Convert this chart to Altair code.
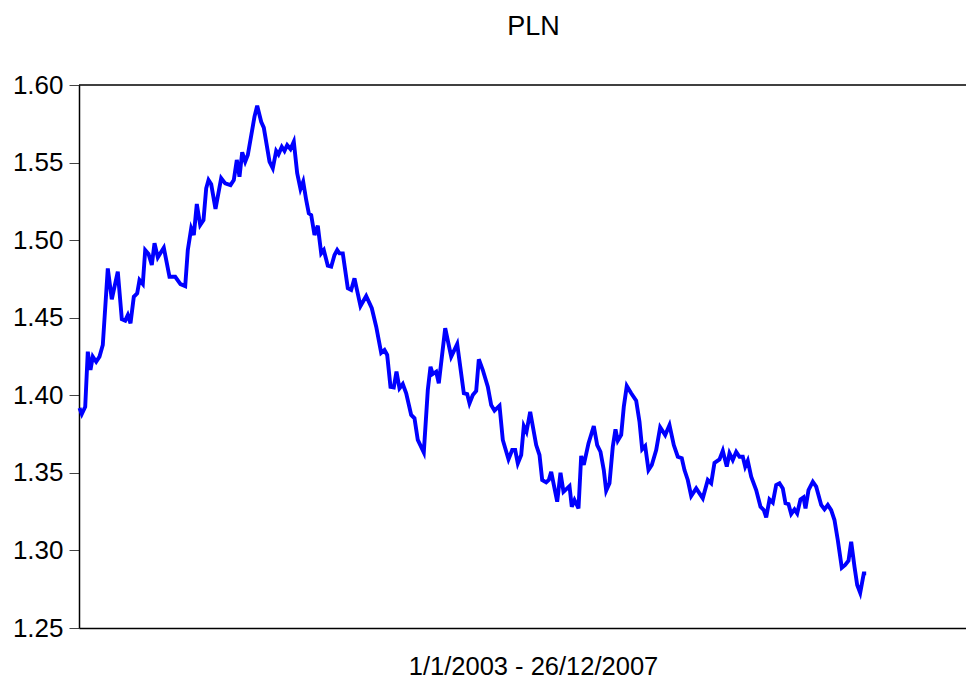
import altair as alt
import pandas as pd

# week index (approx.) and PLN value
t = [0.17, 0.93, 2.07, 2.93, 3.83, 4.6, 5.73, 6.83, 7.93, 9.6, 10.93, 12.93, 14.27, 15.4, 16.27, 17.17,
     18.27, 19.4, 20.17, 21.27, 22.07, 23.17, 24.27, 25.17, 26.27, 28.27, 30.17, 32.07, 33.83, 35.4,
     36.27, 37.4, 38.27, 39.27, 40.4, 41.5, 42.4, 43.17, 44.07, 45.5, 47.4, 48.73, 50.5, 51.6, 52.6,
     53.5, 54.4, 55.4, 56.27, 58.5, 59.4, 60.73, 61.6, 63.5, 64.6, 65.73, 66.5, 67.6, 68.5, 69.4, 70.5,
     71.6, 72.73, 73.83, 74.73, 75.73, 76.6, 77.4, 78.5, 79.6, 80.73, 81.6, 82.93, 84.07, 85.17, 86.07,
     86.83, 87.93, 89.6, 90.73, 91.83, 93.83, 95.73, 97.6, 99.07, 100.73, 101.83, 102.73, 103.83,
     104.93, 105.83, 106.83, 107.93, 109.07, 110.73, 111.83, 112.93, 114.93, 116.27, 117.17, 117.93,
     119.07, 119.93, 122.07, 124.07, 126.07, 128.27, 129.4, 130.17, 131.27, 132.4, 133.27, 134.6,
     136.27, 137.4, 138.5, 140.17, 141.27, 143.17, 144.4, 145.4, 146.27, 147.4, 148.27, 149.17, 150.4,
     152.4, 153.5, 154.4, 155.73, 156.6, 157.4, 159.4, 160.5, 161.5, 163.5, 164.27, 165.17, 166.5,
     167.4, 168.27, 169.83, 171.6, 172.73, 173.83, 174.93, 175.73, 176.83, 177.93, 178.83, 179.6,
     180.73, 181.6, 182.6, 184.07, 185.73, 186.83, 187.73, 188.73, 189.83, 190.93, 192.4, 193.73,
     195.4, 196.83, 198.27, 199.6, 200.93, 201.83, 202.93, 204.07, 205.73, 207.93, 209.6, 210.73,
     211.83, 213.5, 214.6, 215.93, 216.83, 217.93, 219.07, 220.17, 221.27, 222.07, 222.93, 224.07,
     225.73, 227.17, 228.27, 229.07, 230.17, 231.27, 232.4, 233.5, 234.6, 235.5, 236.5, 237.4, 238.5,
     239.4, 240.5, 241.5, 242.17, 243.17, 244.6, 245.73, 247.4, 248.5, 249.6, 250.73, 251.83, 252.93,
     254.27, 255.4, 256.5, 257.4, 258.5, 259.4, 260.4, 261.6, 262.4]

v = [1.3918, 1.3879, 1.3926, 1.4281, 1.4163, 1.4249, 1.4216, 1.4249, 1.4324, 1.4818, 1.4619, 1.4797,
     1.4490, 1.4481, 1.4517, 1.4464, 1.4635, 1.4657, 1.4743, 1.4717, 1.4936, 1.4911, 1.4840, 1.4980,
     1.4889, 1.4951, 1.4764, 1.4764, 1.4717, 1.4704, 1.4936, 1.5076, 1.5033, 1.5233, 1.5098, 1.5130,
     1.5334, 1.5388, 1.5360, 1.5201, 1.5399, 1.5366, 1.5355, 1.5388, 1.5517, 1.5409, 1.5566, 1.5506,
     1.5549, 1.5796, 1.5867, 1.5763, 1.5725, 1.5506, 1.5463, 1.5575, 1.5553, 1.5602, 1.5575, 1.5613,
     1.5587, 1.5635, 1.5431, 1.5330, 1.5377, 1.5259, 1.5173, 1.5162, 1.5033, 1.5093, 1.4915, 1.4936,
     1.4835, 1.4829, 1.4904, 1.4936, 1.4915, 1.4915, 1.4690, 1.4679, 1.4754, 1.4575, 1.4640, 1.4561,
     1.4442, 1.4274, 1.4292, 1.4260, 1.4055, 1.4051, 1.4152, 1.4045, 1.4073, 1.4013, 1.3873, 1.3852,
     1.3712, 1.3632, 1.4034, 1.4184, 1.4137, 1.4152, 1.4077, 1.4432, 1.4249, 1.4330, 1.4013, 1.4008,
     1.3948, 1.4002, 1.4028, 1.4232, 1.4163, 1.4055, 1.3937, 1.3901, 1.3933, 1.3712, 1.3587, 1.3647,
     1.3647, 1.3561, 1.3615, 1.3802, 1.3765, 1.3894, 1.3679, 1.3615, 1.3454, 1.3439, 1.3454, 1.3507,
     1.3314, 1.3501, 1.3378, 1.3415, 1.3282, 1.3325, 1.3271, 1.3609, 1.3551, 1.3690, 1.3802, 1.3679,
     1.3636, 1.3518, 1.3385, 1.3433, 1.3668, 1.3781, 1.3707, 1.3744, 1.3926, 1.4060, 1.4013, 1.3965,
     1.3830, 1.3652, 1.3673, 1.3518, 1.3551, 1.3647, 1.3794, 1.3744, 1.3808, 1.3679, 1.3604, 1.3594,
     1.3518, 1.3454, 1.3351, 1.3400, 1.3336, 1.3454, 1.3433, 1.3565, 1.3587, 1.3643, 1.3540, 1.3626,
     1.3583, 1.3636, 1.3604, 1.3604, 1.3540, 1.3578, 1.3475, 1.3389, 1.3282, 1.3260, 1.3213, 1.3329,
     1.3308, 1.3422, 1.3433, 1.3400, 1.3304, 1.3299, 1.3235, 1.3265, 1.3239, 1.3329, 1.3342, 1.3271,
     1.3389, 1.3443, 1.3411, 1.3293, 1.3265, 1.3293, 1.3260, 1.3196, 1.3067, 1.2888, 1.2906, 1.2934,
     1.3056, 1.2895, 1.2777, 1.2727, 1.2852, 1.2852]

y_ticks = [1.25, 1.30, 1.35, 1.40, 1.45, 1.50, 1.55, 1.60]
x_max = 295.67
title_text = "PLN"
x_title = "1/1/2003 - 26/12/2007"

df = pd.DataFrame({"t": t, "v": v})
FONT = "Liberation Sans"

line = alt.Chart(df).mark_line(color="#0000FF", strokeWidth=3.9).encode(
    x=alt.X("t:Q", scale=alt.Scale(domain=[0, x_max], nice=False, zero=False),
            axis=alt.Axis(title=x_title, labels=False, ticks=False, grid=False,
                          domainColor="black", domainWidth=1.5,
                          titleFont=FONT, titleFontSize=25.5, titleFontWeight="normal",
                          titleColor="black", titlePadding=26, titleX=454)),
    y=alt.Y("v:Q", scale=alt.Scale(domain=[1.25, 1.60], nice=False, zero=False),
            axis=alt.Axis(title=None, values=y_ticks, format=".2f", grid=False,
                          labelFont=FONT, labelFontSize=26, labelColor="black",
                          labelPadding=6, tickSize=10, tickColor="#444444", tickWidth=1,
                          domainColor="black", domainWidth=1.5)),
)

top = alt.Chart(pd.DataFrame({"y": [1.60]})).mark_rule(color="black", strokeWidth=1.5).encode(
    y=alt.Y("y:Q")
)

chart = alt.layer(line, top).properties(
    width=887, height=543,
    title=alt.TitleParams(title_text, font=FONT, fontSize=27, fontWeight="normal",
                          color="black", offset=31, dx=11),
    autosize="none",
    padding={"left": 71, "top": 77, "right": 0, "bottom": 56},
).configure_view(stroke=None)

chart.save("out.html", embed_options={"renderer": "svg", "actions": False})
